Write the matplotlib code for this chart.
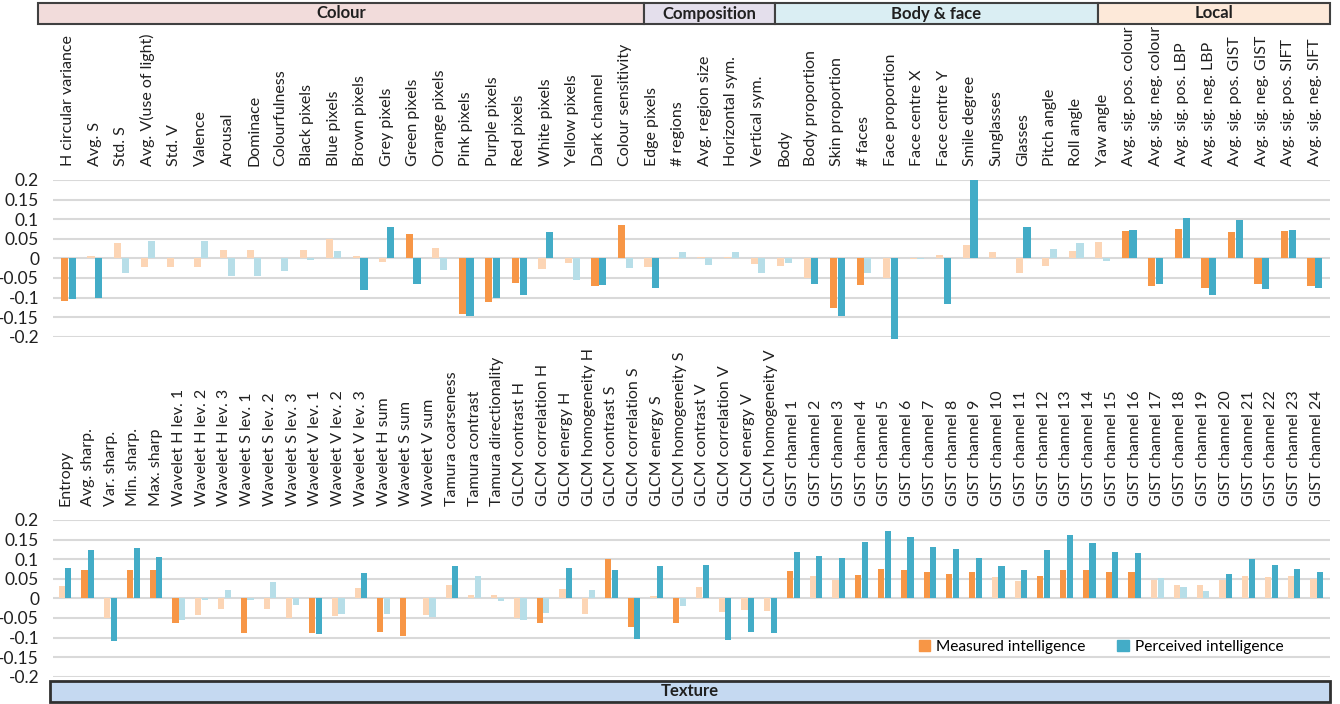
import matplotlib
matplotlib.use('Agg')
import matplotlib.pyplot as plt
from matplotlib.patches import Rectangle, Patch

plt.rcParams['font.family'] = ['Lato', 'DejaVu Sans']

# ---- data: top panel (colour, composition, body & face, local) ----
top_labels = ["H circular variance", "Avg. S", "Std. S", "Avg. V(use of light)", "Std. V",
              "Valence", "Arousal", "Dominace", "Colourfulness", "Black pixels", "Blue pixels",
              "Brown pixels", "Grey pixels", "Green pixels", "Orange pixels", "Pink pixels",
              "Purple pixels", "Red pixels", "White pixels", "Yellow pixels", "Dark channel",
              "Colour sensitivity", "Edge pixels", "# regions", "Avg. region size",
              "Horizontal sym.", "Vertical sym.", "Body", "Body proportion", "Skin proportion",
              "# faces", "Face proportion", "Face centre X", "Face centre Y", "Smile degree",
              "Sunglasses", "Glasses", "Pitch angle", "Roll angle", "Yaw angle",
              "Avg. sig. pos. colour", "Avg. sig. neg. colour", "Avg. sig. pos. LBP",
              "Avg. sig. neg. LBP", "Avg. sig. pos. GIST", "Avg. sig. neg. GIST",
              "Avg. sig. pos. SIFT", "Avg. sig. neg. SIFT"]
measured_top = [-0.110, 0.006, 0.040, -0.021, -0.021, -0.021, 0.022, 0.022, 0.0, 0.022,
                0.050, 0.005, -0.009, 0.063, 0.027, -0.142, -0.111, -0.062, -0.026, -0.011,
                -0.070, 0.084, -0.021, -0.002, 0.003, 0.003, -0.015, -0.020, -0.051, -0.126,
                -0.068, -0.051, -0.002, 0.009, 0.035, 0.015, -0.038, -0.020, 0.020, 0.042,
                0.071, -0.070, 0.076, -0.075, 0.068, -0.065, 0.071, -0.070]
measured_top_sig = [1, 0, 0, 0, 0, 0, 0, 0, 0, 0, 0, 0, 0, 1, 0, 1, 1, 1, 0, 0, 1, 1, 0, 0,
                    0, 0, 0, 0, 0, 1, 1, 0, 0, 0, 0, 0, 0, 0, 0, 0, 1, 1, 1, 1, 1, 1, 1, 1]
perceived_top = [-0.103, -0.101, -0.038, 0.045, 0.0, 0.045, -0.045, -0.045, -0.033, -0.004,
                 0.019, -0.080, 0.079, -0.065, -0.029, -0.147, -0.101, -0.093, 0.066, -0.055,
                 -0.068, -0.024, -0.075, 0.017, -0.018, 0.015, -0.038, -0.013, -0.065, -0.147,
                 -0.038, -0.206, -0.001, -0.116, 0.200, 0.0, 0.081, 0.025, 0.040, -0.008,
                 0.073, -0.065, 0.104, -0.093, 0.099, -0.078, 0.073, -0.075]
perceived_top_sig = [1, 1, 0, 0, 0, 0, 0, 0, 0, 0, 0, 1, 1, 1, 0, 1, 1, 1, 1, 0, 1, 0, 1, 0,
                     0, 0, 0, 0, 1, 1, 0, 1, 0, 1, 1, 0, 1, 0, 0, 0, 1, 1, 1, 1, 1, 1, 1, 1]

# ---- data: bottom panel (texture) ----
bot_labels = ["Entropy", "Avg. sharp.", "Var. sharp.", "Min. sharp.", "Max. sharp",
              "Wavelet H lev. 1", "Wavelet H lev. 2", "Wavelet H lev. 3",
              "Wavelet S lev. 1", "Wavelet S lev. 2", "Wavelet S lev. 3",
              "Wavelet V lev. 1", "Wavelet V lev. 2", "Wavelet V lev. 3",
              "Wavelet H sum", "Wavelet S sum", "Wavelet V sum",
              "Tamura coarseness", "Tamura contrast", "Tamura directionality",
              "GLCM contrast H", "GLCM correlation H", "GLCM energy H", "GLCM homogeneity H",
              "GLCM contrast S", "GLCM correlation S", "GLCM energy S", "GLCM homogeneity S",
              "GLCM contrast V", "GLCM correlation V", "GLCM energy V", "GLCM homogeneity V"] + \
             ["GIST channel %d" % i for i in range(1, 25)]
measured_bot = [0.031, 0.072, -0.051, 0.072, 0.072, -0.062, -0.043, -0.027, -0.088, -0.027,
                -0.051, -0.088, -0.045, 0.027, -0.086, -0.096, -0.042, 0.034, 0.008, 0.009,
                -0.051, -0.063, 0.024, -0.039, 0.100, -0.073, 0.006, -0.063, 0.030, -0.035,
                -0.030, -0.032, 0.070, 0.057, 0.048, 0.060, 0.075, 0.072, 0.067, 0.062,
                0.067, 0.054, 0.044, 0.057, 0.072, 0.072, 0.067, 0.067, 0.047, 0.034,
                0.034, 0.047, 0.057, 0.054, 0.057, 0.049]
measured_bot_sig = [0, 1, 0, 1, 1, 1, 0, 0, 1, 0, 0, 1, 0, 0, 1, 1, 0, 0, 0, 0, 0, 1, 0, 0,
                    1, 1, 0, 1, 0, 0, 0, 0, 1, 0, 0, 1, 1, 1, 1, 1, 1, 0, 0, 1, 1, 1, 1, 1,
                    0, 0, 0, 0, 0, 0, 0, 0]
perceived_bot = [0.077, 0.123, -0.108, 0.129, 0.106, -0.055, -0.003, 0.021, -0.005, 0.042,
                 -0.016, -0.091, -0.040, 0.065, -0.040, 0.0, -0.048, 0.083, 0.057, -0.007,
                 -0.055, -0.038, 0.077, 0.021, 0.072, -0.104, 0.083, -0.019, 0.085, -0.106,
                 -0.086, -0.088, 0.118, 0.108, 0.103, 0.144, 0.172, 0.157, 0.131, 0.126,
                 0.103, 0.083, 0.072, 0.123, 0.162, 0.141, 0.118, 0.116, 0.052, 0.029,
                 0.019, 0.062, 0.100, 0.085, 0.075, 0.067]
perceived_bot_sig = [1, 1, 1, 1, 1, 0, 0, 0, 0, 0, 0, 1, 0, 1, 0, 0, 0, 1, 0, 0, 0, 0, 1, 0,
                     1, 1, 1, 0, 1, 1, 1, 1, 1, 1, 1, 1, 1, 1, 1, 1, 1, 1, 1, 1, 1, 1, 1, 1,
                     0, 0, 0, 1, 1, 1, 1, 1]

yticks = [0.2, 0.15, 0.1, 0.05, 0, -0.05, -0.1, -0.15, -0.2]

ORANGE, ORANGE_LT = '#F79646', '#FCD5B5'
BLUE, BLUE_LT = '#43ACC7', '#B7DEE8'

W, H = 1340, 704
fig = plt.figure(figsize=(13.4, 7.04), dpi=100)


def px_axes(x0, y_top, x1, y_bot):
    # axes from pixel box
    return fig.add_axes([x0 / W, 1 - y_bot / H, (x1 - x0) / W, (y_bot - y_top) / H])


def draw_panel(ax, labels, meas, meas_sig, perc, perc_sig, xlim):
    n = len(labels)
    x = list(range(n))
    bw = 0.27
    ax.bar([i - bw / 2 - 0.01 for i in x], meas, width=bw,
           color=[ORANGE if s else ORANGE_LT for s in meas_sig], clip_on=False, zorder=3)
    ax.bar([i + bw / 2 + 0.01 for i in x], perc, width=bw,
           color=[BLUE if s else BLUE_LT for s in perc_sig], clip_on=False, zorder=3)
    ax.set_ylim(-0.2, 0.2)
    ax.set_xlim(*xlim)
    ax.set_yticks(yticks)
    ax.set_yticklabels([('%g' % t) for t in yticks], fontsize=12.5, color='#202020')
    ax.yaxis.grid(True, color='#D9D9D9', linewidth=1.5, zorder=0)
    ax.set_axisbelow(True)
    for sp in ax.spines.values():
        sp.set_visible(False)
    ax.tick_params(axis='y', length=0, pad=10)
    ax.xaxis.tick_top()
    ax.set_xticks(x)
    ax.set_xticklabels(labels, rotation=90, fontsize=11.5, color='#202020')
    ax.tick_params(axis='x', length=0, pad=10)


ax1 = px_axes(53, 180, 1330, 336.7)
draw_panel(ax1, top_labels, measured_top, measured_top_sig, perceived_top, perceived_top_sig,
           (-0.58, 47.57))

ax2 = px_axes(53, 520, 1330, 676.7)
draw_panel(ax2, bot_labels, measured_bot, measured_bot_sig, perceived_bot, perceived_bot_sig,
           (-0.53, 55.58))

# group header boxes (pixel positions)
groups = [("Colour", 38, 644, '#F2DCDB'), ("Composition", 644, 775, '#E4DFEC'),
          ("Body & face", 775, 1098, '#DAEEF3'), ("Local", 1098, 1330, '#FDE9D9')]
for name, x0, x1, col in groups:
    fig.patches.append(Rectangle((x0 / W, 1 - 24 / H), (x1 - x0) / W, 21 / H,
                                 transform=fig.transFigure, facecolor=col,
                                 edgecolor='#404040', linewidth=1.5))
    fig.text((x0 + x1) / 2 / W, 1 - 13.5 / H, name, ha='center', va='center',
             fontsize=12, fontweight='bold', color='#202020')

fig.patches.append(Rectangle((50 / W, 1 - 702 / H), 1280 / W, 21 / H,
                             transform=fig.transFigure, facecolor='#C5D9F1',
                             edgecolor='#303030', linewidth=2))
fig.text(690 / W, 1 - 691.5 / H, "Texture", ha='center', va='center',
         fontsize=12, fontweight='bold', color='#202020')

handles = [Patch(color=ORANGE, label='Measured intelligence'),
           Patch(color=BLUE, label='Perceived intelligence')]
fig.legend(handles=handles, loc='center', bbox_to_anchor=(1101 / W, 1 - 647 / H), ncol=2,
           frameon=False, fontsize=11.2, handlelength=0.75, handleheight=0.75,
           handletextpad=0.4, columnspacing=2.0)

fig.savefig('out.png', dpi=100)
plt.close(fig)
